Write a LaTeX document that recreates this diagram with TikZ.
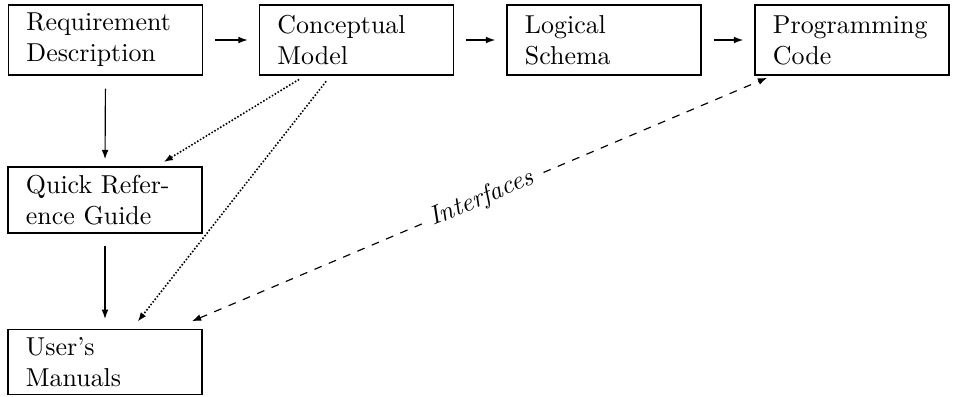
\documentclass[tikz,border=0pt]{standalone}
\usetikzlibrary{arrows.meta,calc}
\begin{document}
\begin{tikzpicture}[x=0.386pt,y=-0.386pt,
  box/.style={draw,line width=0.6pt,inner xsep=7pt,inner ysep=0pt,
    text width=61pt,align=left,minimum height=27pt,font=\normalsize},
  arr/.style={line width=0.45pt,-{Latex[length=3.6pt,width=2.6pt]}},
  dotarr/.style={line width=0.85pt,dash pattern=on 0pt off 1.3pt,line cap=round,
    -{Latex[length=3.6pt,width=2.6pt]}},
  dasharr/.style={line width=0.45pt,dash pattern=on 3pt off 3pt,
    {Latex[length=3.6pt,width=2.6pt]}-{Latex[length=3.6pt,width=2.6pt]}}]
\useasboundingbox (0,0) rectangle (953,396);
\node[box] (req)  at (105.5,40) {Requirement\\Description};
\node[box] (con)  at (356.5,40) {Conceptual\\Model};
\node[box] (log)  at (604,40)   {Logical\\Schema};
\node[box] (prog) at (852,40)   {Programming\\Code};
\node[box,minimum height=25.5pt] (quick) at (105,200) {Quick Refer-\\ence Guide};
\node[box,minimum height=25pt] (user)  at (105,362) {User's\\Manuals};
\draw[arr,shorten <=4.5pt,shorten >=4.2pt] (req.east) -- (con.west);
\draw[arr,shorten <=4.5pt,shorten >=4.2pt] (con.east) -- (log.west);
\draw[arr,shorten <=4.5pt,shorten >=4.2pt] (log.east) -- (prog.west);
\draw[arr,shorten <=5pt,shorten >=2.7pt] (req.south) -- (quick.north);
\draw[arr,shorten <=4.6pt,shorten >=3.8pt] (quick.south) -- (user.north);
\draw[dotarr,shorten <=3pt,shorten >=3pt] ($(con.south)+(-51.5,0)$) -- ($(quick.north east)+(-46,0)$);
\draw[dotarr,shorten <=3pt,shorten >=3.5pt] ($(con.south)+(-26,0)$) -- ($(user.north)+(27,0)$);
\draw[dasharr,shorten <=7.5pt,shorten >=2pt] ($(user.north)+(69,0)$) -- ($(prog.south)+(-80,0)$)
  node[pos=0.515,sloped,fill=white,inner sep=2pt,font=\itshape] (lab) {Interfaces};
\end{tikzpicture}
\end{document}
